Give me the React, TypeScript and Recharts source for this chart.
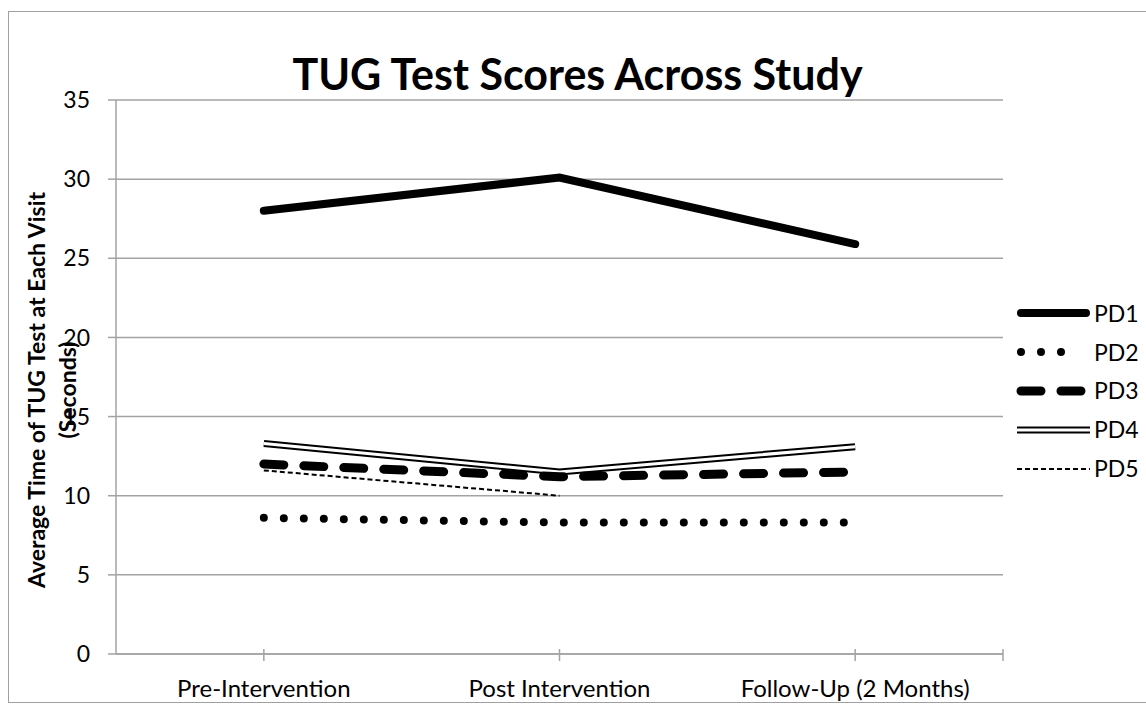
import React from 'react';
import { LineChart, Line, XAxis, YAxis, CartesianGrid, Legend } from 'recharts';

// visits and seconds
const visits = ['Pre-Intervention', 'Post Intervention', 'Follow-Up (2 Months)'];
const seriesNames = ['PD1', 'PD2', 'PD3', 'PD4', 'PD5'];
const pd1 = [28.0, 30.1, 25.9];
const pd2 = [8.6, 8.3, 8.3];
const pd3 = [12.0, 11.2, 11.5];
const pd4 = [13.3, 11.5, 13.1];
const pd5 = [11.6, 10.0, null];
const yTicks = [0, 5, 10, 15, 20, 25, 30, 35];

const data = visits.map((visit, i) => ({
  visit,
  PD1: pd1[i],
  PD2: pd2[i],
  PD3: pd3[i],
  PD4: pd4[i],
  PD5: pd5[i],
}));

const FONT = 'Lato, "Open Sans", sans-serif';
const GRID = '#a3a3a3';

// stroke styles, shared by the lines and the legend swatches
const styles: Record<string, any> = {
  PD1: { stroke: '#000', strokeWidth: 8, strokeLinecap: 'round' },
  PD2: { stroke: '#000', strokeWidth: 8, strokeLinecap: 'round', strokeDasharray: '0 20' },
  PD3: { stroke: '#000', strokeWidth: 9, strokeLinecap: 'round', strokeDasharray: '20 20' },
  PD4: { stroke: '#000', strokeWidth: 7 },
  PD5: { stroke: '#000', strokeWidth: 2, strokeDasharray: '5 3' },
};

const VisitTick = (props: any) => {
  const { x, y, payload, index, visibleTicksCount } = props;
  const half = payload?.offset ?? 0;
  return (
    <g>
      <line x1={x} x2={x} y1={y - 5} y2={y + 7} stroke={GRID} strokeWidth={1.5} />
      {index === visibleTicksCount - 1 && half > 0 && (
        <line x1={x + half} x2={x + half} y1={y - 5} y2={y + 7} stroke={GRID} strokeWidth={1.5} />
      )}
      <text
        x={x}
        y={y + 33}
        textAnchor="middle"
        dominantBaseline="central"
        fontFamily={FONT}
        fontSize={24}
        fill="#000"
      >
        {payload.value}
      </text>
    </g>
  );
};

const Swatch = ({ name }: { name: string }) => {
  const s = styles[name];
  const inset = s.strokeLinecap === 'round' ? 12 : 8;
  const end = name === 'PD2' ? 70 : s.strokeLinecap === 'round' ? 77 : 81;
  return (
    <svg width={84} height={20} style={{ display: 'block' }}>
      <line x1={inset} x2={end} y1={10} y2={10} {...s} />
      {name === 'PD4' && <line x1={inset} x2={end} y1={10} y2={10} stroke="#fff" strokeWidth={3} />}
    </svg>
  );
};

const SeriesLegend = (props: any) => {
  const shown = (props.payload || [])
    .map((p: any) => p.dataKey)
    .filter((k: string) => seriesNames.includes(k));
  const ordered = seriesNames.filter((n) => shown.includes(n));
  return (
    <div>
      {ordered.map((name) => (
        <div key={name} style={{ height: 38.8, display: 'flex', alignItems: 'center' }}>
          <Swatch name={name} />
          <span style={{ fontFamily: FONT, fontSize: 23, lineHeight: 1, color: '#000', marginLeft: 1 }}>{name}</span>
        </div>
      ))}
    </div>
  );
};

export default function App() {
  return (
    <div
      style={{
        position: 'absolute',
        left: 8,
        top: 11,
        width: 1138,
        height: 692,
        boxSizing: 'border-box',
        borderLeft: '1px solid #a0a0a0',
        borderTop: '1px solid #a0a0a0',
        borderBottom: '1px solid #a0a0a0',
        background: '#fff',
      }}
    >
      <div
        style={{
          position: 'absolute',
          left: 0,
          top: 40,
          width: 1137,
          textAlign: 'center',
          fontFamily: FONT,
          fontWeight: 'bold',
          fontSize: 43,
          lineHeight: '43px',
          color: '#000',
        }}
      >
        TUG Test Scores Across Study
      </div>
      <LineChart width={1137} height={690} data={data} margin={{ top: 88, right: 143, bottom: 0, left: 0 }}>
        <CartesianGrid vertical={false} stroke={GRID} strokeWidth={1.5} />
        <XAxis
          dataKey="visit"
          scale="band"
          interval={0}
          height={48}
          axisLine={{ stroke: GRID, strokeWidth: 1.5 }}
          tickLine={false}
          tickSize={0}
          tickMargin={0}
          tick={<VisitTick />}
        />
        <YAxis
          width={107}
          domain={[0, 35]}
          ticks={yTicks}
          interval={0}
          tickSize={8}
          tickMargin={18}
          axisLine={{ stroke: GRID, strokeWidth: 1.5 }}
          tickLine={{ stroke: GRID, strokeWidth: 1.5 }}
          tick={{ fill: '#000', fontSize: 23, fontFamily: FONT }}
        />
        <Legend
          layout="vertical"
          align="center"
          verticalAlign="middle"
          wrapperStyle={{ left: 1000, top: 282, width: 137 }}
          content={<SeriesLegend />}
        />
        <Line dataKey="PD1" name="PD1" dot={false} activeDot={false} isAnimationActive={false} {...styles.PD1} />
        <Line dataKey="PD2" name="PD2" dot={false} activeDot={false} isAnimationActive={false} {...styles.PD2} />
        <Line dataKey="PD4" name="PD4" dot={false} activeDot={false} isAnimationActive={false} {...styles.PD4} />
        <Line
          dataKey="PD4"
          name="PD4 inner"
          legendType="none"
          dot={false}
          activeDot={false}
          isAnimationActive={false}
          stroke="#fff"
          strokeWidth={3}
        />
        <Line dataKey="PD3" name="PD3" dot={false} activeDot={false} isAnimationActive={false} {...styles.PD3} />
        <Line dataKey="PD5" name="PD5" dot={false} activeDot={false} isAnimationActive={false} {...styles.PD5} />
      </LineChart>
      {/* y axis title, two lines, overlaid like the original */}
      <svg
        width={120}
        height={690}
        style={{ position: 'absolute', left: 0, top: 0, pointerEvents: 'none' }}
      >
        <g fontFamily={FONT} fontSize={23} fontWeight="bold" fill="#000">
          <text x={27} y={378} textAnchor="middle" dominantBaseline="central" transform="rotate(-90 27 378)">
            Average Time of TUG Test at Each Visit
          </text>
          <text x={58} y={378} textAnchor="middle" dominantBaseline="central" transform="rotate(-90 58 378)">
            (Seconds)
          </text>
        </g>
      </svg>
    </div>
  );
}
